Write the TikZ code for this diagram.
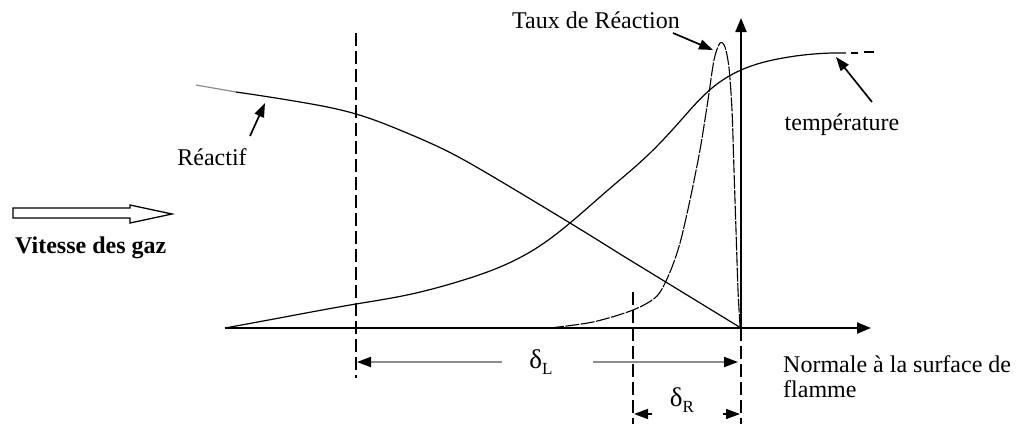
\documentclass[tikz,border=0pt]{standalone}
\usepackage{fontspec}
\setmainfont{Liberation Serif}
\usetikzlibrary{arrows.meta,hobby}
\begin{document}
\begin{tikzpicture}[x=1pt,y=-1pt,
  lbl/.style={font=\fontsize{24}{26}\selectfont, inner sep=0pt},
  curve/.style={line width=1.2pt, line join=round, use Hobby shortcut},
  rate/.style={line width=1.1pt, dash pattern=on 14pt off 1.5pt, line join=round},
  axisline/.style={line width=2pt, -{Triangle[length=14pt,width=11pt]}},
  guide/.style={line width=1.3pt, dash pattern=on 13pt off 5pt},
  ptr/.style={line width=1.7pt, -{Triangle[length=14pt,width=10pt]}},
  dimgray/.style={line width=2pt, draw=black!45, -{Triangle[length=14pt,width=10pt,color=black]}},
  dimdark/.style={line width=1.6pt, -{Triangle[length=14pt,width=10pt]}}
]
\useasboundingbox (0,0) rectangle (1023,424);

% axes
\coordinate (O) at (741,328);
\coordinate (xstart) at (225,328);
\coordinate (xend) at (871,328);
\coordinate (yend) at (741,18);
\draw[axisline] (xstart) -- (xend);
\draw[axisline] (O) -- (yend);

% dashed guides
\coordinate (gLtop) at (356,33);
\coordinate (gLbot) at (356,378);
\coordinate (gMtop) at (633,292);
\coordinate (gMbot) at (633,424);
\coordinate (gRbot) at (741,424);
\draw[guide] (gLtop) -- (gLbot);
\draw[guide] (gMtop) -- (gMbot);
\draw[guide] (O) -- (gRbot);

% reactant curve
\draw[line width=1.2pt, black!45] (196,85) -- (236,92);
\draw[curve] (236,92) .. (300,102) .. (356,114) .. (407,133) .. (447,151) .. (485,172) .. (527,197) .. (570,223) .. (620,254);
\draw[line width=1.2pt] (620,254) -- (O);

% temperature curve
\draw[curve] (xstart) .. (290,316) .. (356,304) .. (407,295) .. (457,282) .. (500,267) .. (535,249) .. (570,223) .. (608,190) .. (648,155) .. (682,119) .. (712,88) .. (741,70) .. (783,58) .. (833,53) .. (846,53);
\draw[line width=1.2pt] (851,53) -- (858,53);
\draw[line width=1.2pt] (864,52) -- (874,52);

% reaction rate curve
\draw[rate] plot[smooth, tension=0.5] coordinates {(550,328) (593,322) (633,310) (657,296) (670,272) (680,243) (690,200) (700,150) (708,100) (714,60) (720,43) (725,47) (729,68) (732,110) (734,170) (736,230) (738,290) (740,326)};

% labels
\node[lbl, anchor=center] (taux) at (596,20) {Taux de Réaction};
\node[lbl, anchor=center] (temp) at (842,125) {température};
\node[lbl, anchor=center] (reactif) at (212,157) {Réactif};
\node[lbl, anchor=west, font=\fontsize{24}{26}\selectfont\bfseries] (vitesse) at (15,248) {Vitesse des gaz};
\node[lbl, anchor=base west] (norm1) at (783,372) {Normale à la surface de};
\node[lbl, anchor=base west] (norm2) at (783,397) {flamme};
\node[lbl, anchor=center] (dL) at (541,362) {\fontsize{27}{28}\selectfont δ\raisebox{-6pt}{\fontsize{17}{18}\selectfont L}};
\node[lbl, anchor=center] (dR) at (682,400) {\fontsize{27}{28}\selectfont δ\raisebox{-6pt}{\fontsize{17}{18}\selectfont R}};

% pointer arrows
\coordinate (ttail) at (673,33);
\coordinate (ttip) at (713,50);
\draw[ptr] (ttail) -- (ttip);
\coordinate (tetail) at (872,102);
\coordinate (tetip) at (836,57);
\draw[ptr] (tetail) -- (tetip);
\coordinate (rtail) at (250,136);
\coordinate (rtip) at (265,103);
\draw[ptr] (rtail) -- (rtip);

% dimension arrows
\coordinate (dLl) at (357,362);
\coordinate (dLr) at (738,362);
\coordinate (dLa) at (502,362);
\coordinate (dLb) at (593,362);
\draw[dimgray] (dLa) -- (dLl);
\draw[dimgray] (dLb) -- (dLr);
\coordinate (dRl) at (634,414);
\coordinate (dRr) at (740,414);
\coordinate (dRa) at (652,414);
\coordinate (dRb) at (723,414);
\draw[dimdark] (dRa) -- (dRl);
\draw[dimdark] (dRb) -- (dRr);

% hollow flow arrow
\draw[line width=1.3pt, fill=white, line join=miter]
  (13,208) -- (130,208) -- (130,205) -- (172,214) -- (130,223) -- (130,218) -- (13,218) -- cycle;
\end{tikzpicture}
\end{document}
